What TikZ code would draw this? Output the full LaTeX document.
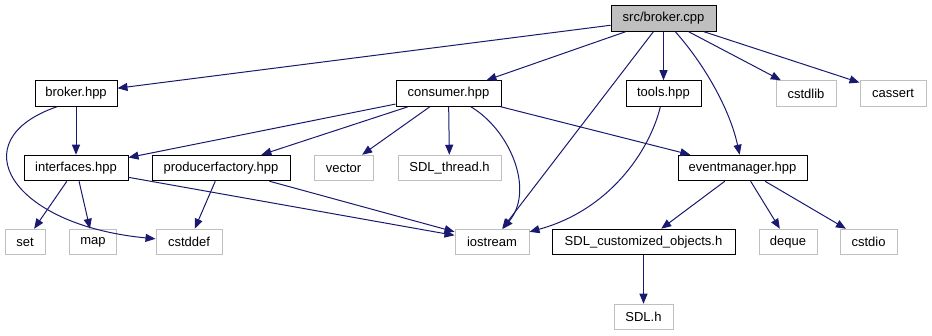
\documentclass[tikz,border=0pt]{standalone}
\usepackage{fontspec}
\setmainfont{Liberation Sans}
\usepackage{tikz}
\usetikzlibrary{arrows.meta}

\definecolor{edgeblue}{HTML}{191970}
\definecolor{extgrey}{HTML}{BFBFBF}

\begin{document}
\begin{tikzpicture}[
    x=1pt, y=-1pt,
    font=\fontsize{13}{15}\selectfont,
    box/.style={rectangle, draw=black, line width=1pt, minimum height=25.5pt,
      inner sep=0pt, align=center},
    rootbox/.style={box, fill=extgrey},
    extbox/.style={box, draw=extgrey},
    dep/.style={-{Triangle[length=10pt, width=8pt]}, edgeblue, line width=1pt},
  ]
  \useasboundingbox (0,0) rectangle (932,336);

  \node[rootbox, minimum width=105] (cpp)        at (663.5,18.5) {src/broker.cpp};

  \node[box,    minimum width=82]  (brokerh)     at (76,93.5)    {broker.hpp};
  \node[box,    minimum width=105] (consumerh)   at (448.5,93.5) {consumer.hpp};
  \node[box,    minimum width=75]  (toolsh)      at (663.5,93.5) {tools.hpp};
  \node[extbox, minimum width=60]  (cstdlib)     at (806,93.5)   {cstdlib};
  \node[extbox, minimum width=66]  (cassert)     at (893,93.5)   {cassert};

  \node[box,    minimum width=104] (interfacesh) at (76,168)     {interfaces.hpp};
  \node[box,    minimum width=138] (factoryh)    at (221,168)    {producerfactory.hpp};
  \node[extbox, minimum width=59]  (vector)      at (343.5,168)  {vector};
  \node[extbox, minimum width=103] (sdlthread)   at (449.5,168)  {SDL\_thread.h};
  \node[box,    minimum width=129] (eventh)      at (742.5,168)  {eventmanager.hpp};

  \node[extbox, minimum width=40]  (set)         at (25,242)     {set};
  \node[extbox, minimum width=47]  (map)         at (93,242)     {map};
  \node[extbox, minimum width=66]  (cstddef)     at (189,242)    {cstddef};
  \node[extbox, minimum width=74]  (iostream)    at (492,242)    {iostream};
  \node[box,    minimum width=183] (sdlobjects)  at (643.5,242)  {SDL\_customized\_objects.h};
  \node[extbox, minimum width=58]  (deque)       at (788,242)    {deque};
  \node[extbox, minimum width=57]  (cstdio)      at (868.5,242)  {cstdio};

  \node[extbox, minimum width=59]  (sdlh)        at (643.5,317)  {SDL.h};

  % includes of the source file
  \draw[dep] (cpp) -- (brokerh);
  \draw[dep] (cpp) -- (consumerh);
  \draw[dep] (cpp) -- (iostream);
  \draw[dep] (cpp) -- (toolsh);
  \draw[dep] (cpp) .. controls (705,65) and (730,110) .. (eventh);
  \draw[dep] (cpp) -- (cstdlib);
  \draw[dep] (cpp) -- (cassert);

  % headers
  \draw[dep] (brokerh) -- (interfacesh);
  \draw[dep] ([xshift=-19pt]brokerh.south) .. controls (-40,140) and (10,225) .. (cstddef);
  \draw[dep] (consumerh) -- (interfacesh);
  \draw[dep] (consumerh) -- (factoryh);
  \draw[dep] (consumerh) -- (vector);
  \draw[dep] (consumerh) -- (sdlthread);
  \draw[dep] (consumerh) .. controls (510,130) and (535,190) .. (iostream);
  \draw[dep] (consumerh) -- (eventh);
  \draw[dep] (toolsh) .. controls (650,150) and (610,210) .. (iostream);
  \draw[dep] (interfacesh) -- (set);
  \draw[dep] (interfacesh) -- (map);
  \draw[dep] (interfacesh) -- (iostream);
  \draw[dep] (factoryh) -- (cstddef);
  \draw[dep] (factoryh) -- (iostream);
  \draw[dep] (eventh) -- (sdlobjects);
  \draw[dep] (eventh) -- (deque);
  \draw[dep] (eventh) -- (cstdio);
  \draw[dep] (sdlobjects) -- (sdlh);
\end{tikzpicture}
\end{document}
